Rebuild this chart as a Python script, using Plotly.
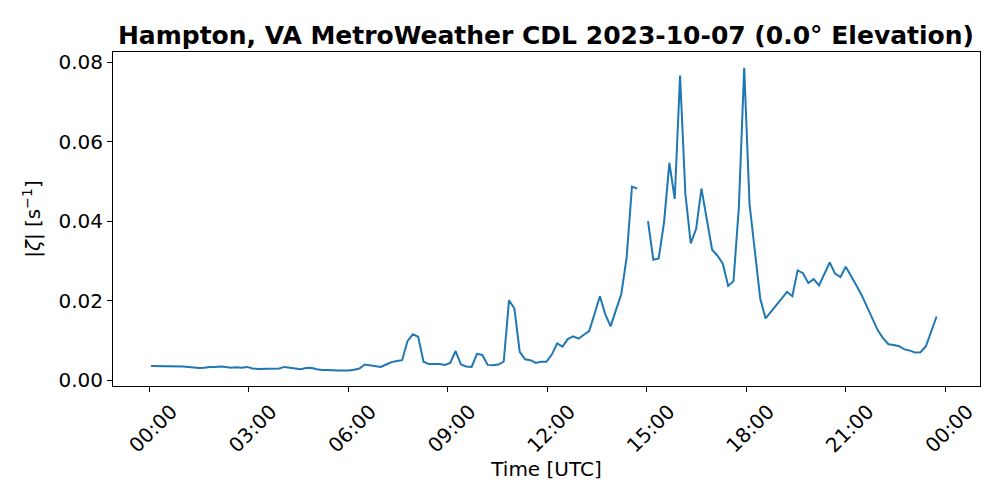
import plotly.graph_objects as go
import pandas as pd

# Scan schedule (radar volume cadence)
scan_start = "2023-10-07 00:03"
scan_cadence = "580s"

# |zeta| values (s^-1); None = missing scan
vorticity = [
    0.0035, 0.0035, 0.0035, 0.0035, 0.0035, 0.0034, 0.0034, 0.0033, 0.0031, 0.0030,
    0.0031, 0.0033, 0.0033, 0.0034, 0.0033, 0.0031, 0.0032, 0.0031, 0.0033, 0.0029,
    0.0028, 0.0028, 0.0029, 0.0028, 0.0029, 0.0033, 0.0031, 0.0028, 0.0027, 0.0030,
    0.0031, 0.0027, 0.0025, 0.0025, 0.0024, 0.0024, 0.0024, 0.0024, 0.0026, 0.0029,
    0.0039, 0.0037, 0.0035, 0.0033, 0.0039, 0.0045, 0.0048, 0.0050, 0.0098, 0.0115,
    0.0109, 0.0046, 0.0040, 0.0040, 0.0040, 0.0038, 0.0043, 0.0073, 0.0039, 0.0034,
    0.0033, 0.0066, 0.0063, 0.0038, 0.0037, 0.0039, 0.0046, 0.0201, 0.0180, 0.0071,
    0.0052, 0.0050, 0.0043, 0.0046, 0.0046, 0.0064, 0.0092, 0.0084, 0.0103, 0.0110,
    0.0104, 0.0114, 0.0123, 0.0167, 0.0211, 0.0166, 0.0135, 0.0176, 0.0216, 0.0308,
    0.0487, 0.0482, None, 0.0400, 0.0303, 0.0306, 0.0397, 0.0547, 0.0456, 0.0767,
    0.0468, 0.0344, 0.0380, 0.0482, 0.0404, 0.0328, 0.0313, 0.0293, 0.0237, 0.0249,
    0.0435, 0.0786, 0.0443, 0.0318, 0.0205, 0.0155, 0.0171, 0.0188, 0.0205, 0.0222,
    0.0211, 0.0276, 0.0269, 0.0244, 0.0254, 0.0238, 0.0268, 0.0296, 0.0268, 0.0259,
    0.0285, 0.0263, 0.0238, 0.0213, 0.0184, 0.0154, 0.0125, 0.0105, 0.0090, 0.0088,
    0.0085, 0.0077, 0.0074, 0.0069, 0.0070, 0.0085, 0.0121, 0.0160,
]

scan_times = pd.date_range(scan_start, periods=len(vorticity), freq=scan_cadence)

# Tick labels
x_tickvals = pd.date_range("2023-10-07 00:00", "2023-10-08 00:00", freq="3h")
x_ticktext = [t.strftime("%H:%M") for t in x_tickvals]
y_tickvals = [0.00, 0.02, 0.04, 0.06, 0.08]

FONT = "DejaVu Sans"

fig = go.Figure()
fig.add_trace(go.Scatter(
    x=scan_times, y=vorticity, mode="lines",
    line=dict(color="#1f77b4", width=2),
    connectgaps=False, showlegend=False,
))

fig.update_layout(
    width=992, height=492,
    margin=dict(l=105, r=20, t=44, b=114),
    paper_bgcolor="white", plot_bgcolor="white",
    font=dict(family=FONT, color="black", size=20),
    title=dict(
        text="<b>Hampton, VA MetroWeather CDL 2023-10-07 (0.0° Elevation)</b>",
        x=0.5423, xref="container", xanchor="center",
        y=0.945, yref="container", yanchor="middle",
        font=dict(family=FONT, size=25, color="black"),
    ),
)

fig.update_xaxes(
    range=[pd.Timestamp("2023-10-06 22:54:20"), pd.Timestamp("2023-10-08 01:02:30")],
    tickvals=x_tickvals, ticktext=x_ticktext, tickangle=-45,
    ticklabelshift=22,
    showgrid=False, zeroline=False, automargin=False,
    showline=True, linecolor="black", linewidth=1, mirror=True,
    ticks="outside", ticklen=5, tickcolor="black", tickwidth=1,
    tickfont=dict(family=FONT, size=20),
    title=dict(text="Time [UTC]", font=dict(family=FONT, size=20), standoff=2),
)
fig.update_yaxes(
    range=[-0.00151, 0.0826],
    tickvals=y_tickvals, tickformat=".2f",
    showgrid=False, zeroline=False, automargin=False,
    showline=True, linecolor="black", linewidth=1, mirror=True,
    ticks="outside", ticklen=5, tickcolor="black", tickwidth=1,
    tickfont=dict(family=FONT, size=20),
    title=dict(text="|<i>ζ</i>| [s<sup>−1</sup>]", font=dict(family=FONT, size=20), standoff=12),
)

fig.write_html("out.html")
